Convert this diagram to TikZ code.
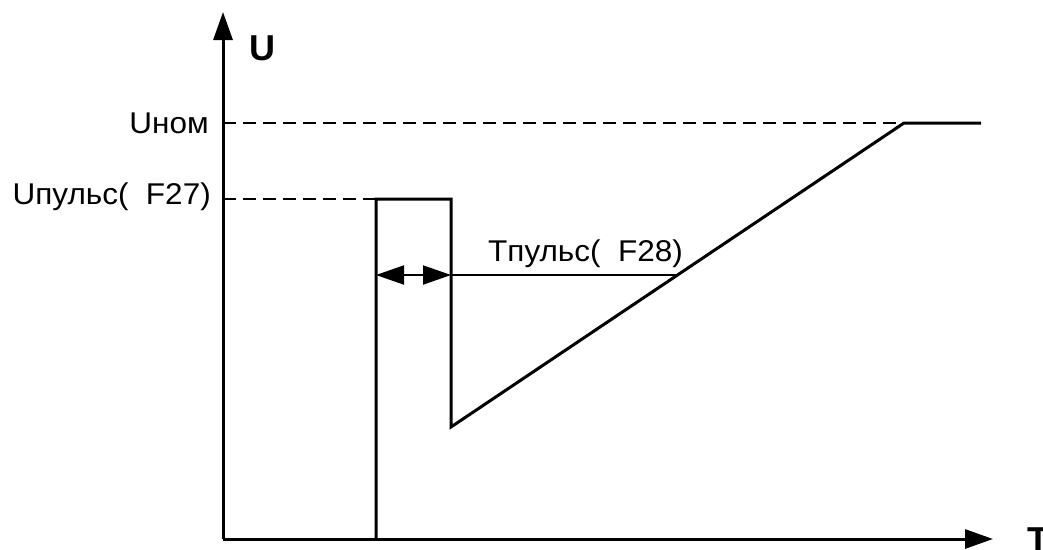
\documentclass[tikz,border=0pt]{standalone}
\usepackage{fontspec}
\setmainfont{Liberation Sans}
\usetikzlibrary{arrows.meta}
\tikzset{
  axis/.style={line width=3pt,-{Triangle[length=28pt,width=19pt]}},
  curve/.style={line width=3pt,line join=miter},
  guide/.style={line width=2pt,dash pattern=on 13pt off 7pt},
  thin/.style={line width=1.7pt},
  dbl/.style={line width=2pt,{Triangle[length=28pt,width=19pt]}-{Triangle[length=28pt,width=19pt]}},
  lbl/.style={font=\fontsize{30}{34}\selectfont,inner sep=0pt,xscale=1.05},
  axlbl/.style={font=\fontsize{36}{40}\selectfont\bfseries,inner sep=0pt}
}
\begin{document}
\begin{tikzpicture}[x=1pt,y=-1pt]
\useasboundingbox (0,0) rectangle (1043,549);
\coordinate (O) at (223,539);
\coordinate (ytop) at (223,12);
\coordinate (xend) at (993,539);
\coordinate (p0) at (376,539);
\coordinate (p1) at (376,199);
\coordinate (p2) at (451,199);
\coordinate (p3) at (451,427);
\coordinate (p4) at (904,123);
\coordinate (p5) at (981,123);
\coordinate (ynom) at (223,123);
\coordinate (ypul) at (223,199);
\coordinate (aL) at (376,275);
\coordinate (aR) at (451,275);
\coordinate (aE) at (677.5,275);
% guides
\draw[guide] (ynom) -- (p4);
\draw[guide] (ypul) -- (p1);
% curve
\draw[curve] (p0) -- (p1) -- (p2) -- (p3) -- (p4) -- (p5);
% pulse width
\draw[dbl] (aL) -- (aR);
\draw[thin] (aR) -- (aE);
% axes
\draw[axis] (O) -- (ytop);
\draw[axis] (O) -- (xend);
% labels
\node[axlbl,anchor=base west] (lU) at (249,60) {U};
\node[axlbl,anchor=base west] (lT) at (1027,552) {T};
\node[lbl,anchor=base east] (lnom) at (209,133) {Uном};
\node[lbl,anchor=base east] (lpul) at (211,204) {Uпульс(\ \ F27)};
\node[lbl,anchor=base west] (ltp) at (488,261) {Tпульс(\ \ F28)};
\end{tikzpicture}
\end{document}
